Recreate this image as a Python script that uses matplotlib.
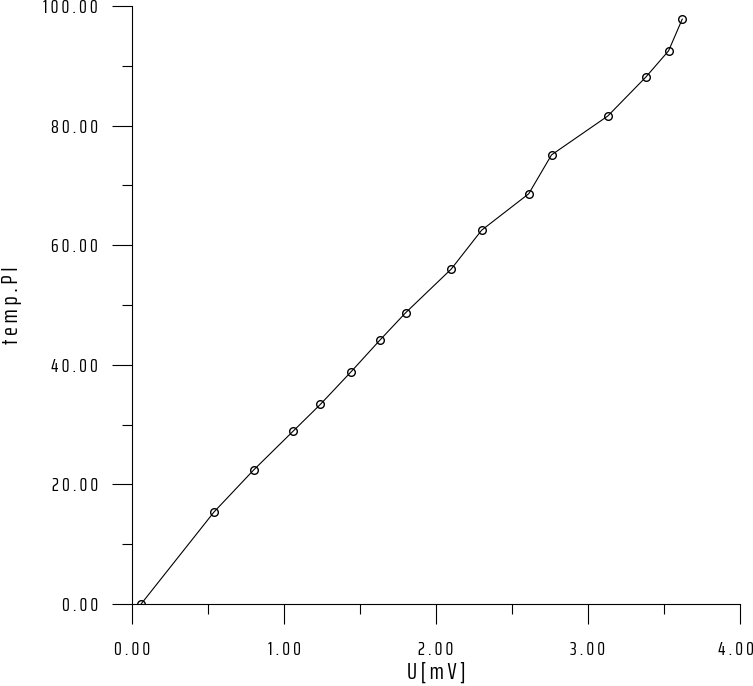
import matplotlib
matplotlib.use("Agg")
import matplotlib.pyplot as plt
from matplotlib.transforms import ScaledTranslation
from matplotlib.ticker import MultipleLocator, FixedLocator

# measured values (U in mV, temp.PI)
u_mv = [0.06, 0.54, 0.80, 1.06, 1.24, 1.44, 1.63, 1.80, 2.10, 2.30,
        2.61, 2.76, 3.13, 3.38, 3.53, 3.62]
temp_pi = [0.0, 15.4, 22.4, 28.9, 33.4, 38.8, 44.1, 48.7, 56.0, 62.5,
           68.6, 75.1, 81.6, 88.1, 92.5, 97.8]

x_major = [0, 1, 2, 3, 4]
y_major = [0, 20, 40, 60, 80, 100]


def spaced(s):
    return " ".join(s)


plt.rcParams['font.family'] = ['Saira ExtraCondensed', 'DejaVu Sans']

fig = plt.figure(figsize=(7.53, 6.86), dpi=100)
ax = fig.add_axes([132 / 753, 1 - 604 / 686, 608 / 753, 598 / 686])

ax.plot(u_mv, temp_pi, color='black', lw=0.8,
        marker='o', ms=5.5, mfc='none', mec='black', mew=1.0)

ax.set_xlim(0, 4)
ax.set_ylim(0, 100)
for s in ('top', 'right'):
    ax.spines[s].set_visible(False)

ax.xaxis.set_major_locator(FixedLocator(x_major))
ax.yaxis.set_major_locator(FixedLocator(y_major))
ax.xaxis.set_minor_locator(MultipleLocator(0.5))
ax.yaxis.set_minor_locator(MultipleLocator(10))
ax.set_xticklabels([spaced(f"{v:.2f}") for v in x_major])
ax.set_yticklabels([spaced(f"{v:.2f}") for v in y_major])

ax.tick_params(which='major', direction='out', length=14.4, width=0.8,
               labelsize=14)
ax.tick_params(which='minor', direction='out', length=7.2, width=0.8)
ax.tick_params(axis='x', which='major', pad=12.5)
ax.tick_params(axis='y', which='major', pad=10)

# last x label sits at the figure edge, nudge it left a bit
last = ax.get_xticklabels()[-1]
last.set_transform(last.get_transform() + ScaledTranslation(-0.04, 0, fig.dpi_scale_trans))

ax.set_xlabel("U [ m V ]", fontsize=17, va='center')
ax.xaxis.set_label_coords(0.5, (604 - 672) / 598)
ax.set_ylabel(spaced("temp.PI"), fontsize=17, va='center')
ax.yaxis.set_label_coords((11 - 132) / 608, 0.5)

fig.savefig("out.png", dpi=100)
